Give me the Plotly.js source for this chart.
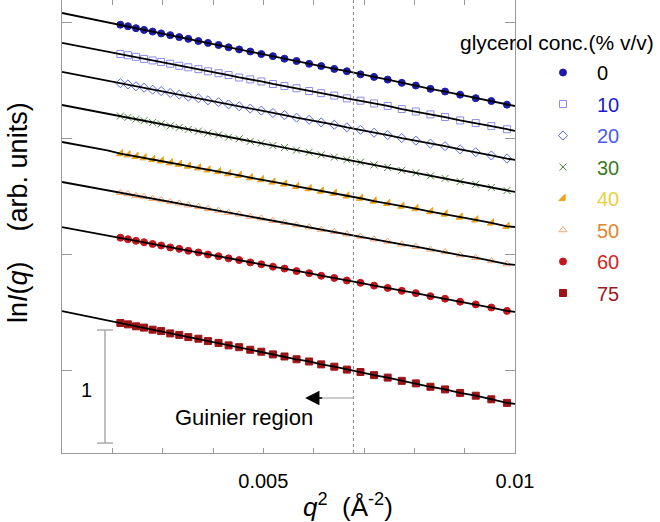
<!DOCTYPE html>
<html>
<head>
<meta charset="utf-8">
<script src="https://cdn.plot.ly/plotly-3.0.1.min.js"></script>
<style>html,body{margin:0;padding:0;background:#fff;}#chart{width:660px;height:522px;}</style>
</head>
<body>
<div id="chart"></div>
<script>
// q^2 positions of the measured points (Å^-2)
const q2 = [0.00216, 0.00231, 0.00247, 0.00263, 0.00280, 0.00297, 0.00315, 0.00333, 0.00351, 0.00371,
            0.00390, 0.00411, 0.00431, 0.00452, 0.00474, 0.00496, 0.00519, 0.00542, 0.00566, 0.00591,
            0.00615, 0.00641, 0.00666, 0.00693, 0.00720, 0.00747, 0.00775, 0.00803, 0.00832, 0.00861,
            0.00891, 0.00922, 0.00953, 0.00984];
// q^2 positions of the extra fit-curve points outside the marker range
const fitLeftQ2 = [0.0010, 0.0013, 0.0016, 0.0019];
const fitRightQ2 = [0.0100];

const conc = ['0', '10', '20', '30', '40', '50', '60', '75'];

// ln I(q) (arb. units, vertically offset) for each glycerol concentration
const lnI_0  = [2.985, 2.972, 2.955, 2.940, 2.926, 2.910, 2.895, 2.878, 2.863, 2.844, 2.828, 2.810, 2.790, 2.772, 2.754, 2.732, 2.714, 2.692, 2.672, 2.648, 2.628, 2.604, 2.584, 2.557, 2.535, 2.512, 2.484, 2.461, 2.432, 2.409, 2.382, 2.352, 2.327, 2.296];
const lnI_10 = [2.733, 2.722, 2.708, 2.690, 2.677, 2.664, 2.649, 2.631, 2.618, 2.602, 2.583, 2.567, 2.551, 2.530, 2.514, 2.496, 2.474, 2.456, 2.437, 2.413, 2.395, 2.374, 2.350, 2.330, 2.306, 2.285, 2.258, 2.237, 2.212, 2.189, 2.160, 2.137, 2.111, 2.084];
const lnI_20 = [2.481, 2.470, 2.454, 2.442, 2.425, 2.413, 2.396, 2.383, 2.365, 2.351, 2.333, 2.317, 2.298, 2.282, 2.262, 2.245, 2.224, 2.206, 2.184, 2.165, 2.143, 2.123, 2.100, 2.079, 2.054, 2.034, 2.008, 1.986, 1.960, 1.938, 1.910, 1.886, 1.858, 1.831];
const lnI_30 = [2.197, 2.186, 2.170, 2.158, 2.142, 2.130, 2.113, 2.100, 2.083, 2.068, 2.050, 2.035, 2.016, 2.001, 1.980, 1.964, 1.943, 1.926, 1.904, 1.885, 1.863, 1.843, 1.821, 1.800, 1.776, 1.755, 1.730, 1.708, 1.682, 1.660, 1.633, 1.609, 1.582, 1.556];
const lnI_40 = [1.874, 1.864, 1.850, 1.838, 1.823, 1.811, 1.795, 1.782, 1.766, 1.751, 1.734, 1.719, 1.701, 1.686, 1.666, 1.650, 1.629, 1.612, 1.591, 1.572, 1.551, 1.532, 1.509, 1.489, 1.465, 1.445, 1.421, 1.400, 1.374, 1.353, 1.326, 1.303, 1.276, 1.247];
const lnI_50 = [1.536, 1.526, 1.511, 1.501, 1.485, 1.474, 1.457, 1.445, 1.429, 1.415, 1.398, 1.383, 1.365, 1.351, 1.331, 1.316, 1.295, 1.279, 1.258, 1.240, 1.219, 1.200, 1.179, 1.159, 1.136, 1.116, 1.092, 1.072, 1.047, 1.026, 0.999, 0.977, 0.949, 0.922];
const lnI_60 = [1.149, 1.136, 1.122, 1.110, 1.095, 1.082, 1.065, 1.053, 1.036, 1.022, 1.004, 0.989, 0.971, 0.956, 0.936, 0.920, 0.899, 0.883, 0.861, 0.843, 0.821, 0.802, 0.780, 0.760, 0.736, 0.716, 0.691, 0.671, 0.645, 0.623, 0.597, 0.574, 0.547, 0.518];
const lnI_75 = [0.414, 0.402, 0.385, 0.374, 0.356, 0.344, 0.324, 0.311, 0.292, 0.278, 0.258, 0.242, 0.221, 0.205, 0.183, 0.166, 0.143, 0.125, 0.101, 0.082, 0.057, 0.037, 0.012, -0.009, -0.036, -0.057, -0.085, -0.107, -0.136, -0.159, -0.189, -0.213, -0.244, -0.275];

// fit curve ends (left extension and right end)
const fitLeft_0  = [3.086, 3.059, 3.033, 3.006];  const fitRight_0  = [2.284];
const fitLeft_10 = [2.828, 2.803, 2.777, 2.752];  const fitRight_10 = [2.069];
const fitLeft_20 = [2.578, 2.553, 2.527, 2.502];  const fitRight_20 = [1.819];
const fitLeft_30 = [2.293, 2.268, 2.243, 2.218];  const fitRight_30 = [1.543];
const fitLeft_40 = [1.974, 1.950, 1.925, 1.901];  const fitRight_40 = [1.241];
const fitLeft_50 = [1.629, 1.605, 1.581, 1.558];  const fitRight_50 = [0.914];
const fitLeft_60 = [1.241, 1.217, 1.192, 1.168];  const fitRight_60 = [0.509];
const fitLeft_75 = [0.517, 0.490, 0.464, 0.437];  const fitRight_75 = [-0.284];

const xTickVals = [0.001, 0.002, 0.003, 0.004, 0.005, 0.006, 0.007, 0.008, 0.009, 0.010];
const xTickText = ['', '', '', '', '0.005', '', '', '', '', '0.01'];

const guinierLimit = 0.00679;

const seriesY = [lnI_0, lnI_10, lnI_20, lnI_30, lnI_40, lnI_50, lnI_60, lnI_75];
const fitLeft = [fitLeft_0, fitLeft_10, fitLeft_20, fitLeft_30, fitLeft_40, fitLeft_50, fitLeft_60, fitLeft_75];
const fitRight = [fitRight_0, fitRight_10, fitRight_20, fitRight_30, fitRight_40, fitRight_50, fitRight_60, fitRight_75];

const symbols = ['circle', 'square-open', 'diamond-open', 'x-thin-open', 'triangle-se', 'triangle-up-open', 'circle', 'square'];
const markerColors = ['#1c1ca6', '#8c8cec', '#5a6af0', '#4f8a3a', '#eca21a', '#f2a672', '#c4161c', '#9c1416'];
const labelColors = ['#000000', '#1a1ad0', '#4a5af2', '#3c7a20', '#ecd040', '#e4842e', '#d42424', '#9c1a1a'];

const FONT = 'Liberation Sans, Arial, Helvetica, sans-serif';

const traces = [];
for (let i = 0; i < conc.length; i++) {
  traces.push({
    x: q2, y: seriesY[i], type: 'scatter', mode: 'markers',
    name: '<span style="color:' + labelColors[i] + '">' + conc[i] + '</span>',
    legendgroup: 'g' + i,
    marker: {symbol: symbols[i], size: 7, color: markerColors[i],
             line: {color: markerColors[i], width: 1}},
    showlegend: true, hoverinfo: 'skip'
  });
}
for (let i = 0; i < conc.length; i++) {
  traces.push({
    x: fitLeftQ2.concat(q2, fitRightQ2),
    y: fitLeft[i].concat(seriesY[i], fitRight[i]),
    type: 'scatter', mode: 'lines',
    line: {color: '#000000', width: 1.8},
    showlegend: false, hoverinfo: 'skip'
  });
}

const layout = {
  width: 660, height: 522,
  margin: {l: 62, r: 145, t: 0, b: 69},
  paper_bgcolor: '#ffffff', plot_bgcolor: '#ffffff',
  font: {family: FONT, size: 20, color: '#000'},
  showlegend: true,
  legend: {x: 1.0309, y: 0.883, xanchor: 'left', yanchor: 'top', itemwidth: 58,
           font: {family: FONT, size: 20}, bgcolor: 'rgba(0,0,0,0)', tracegroupgap: 2.5},
  xaxis: {
    range: [0.001, 0.010], tickmode: 'array', tickvals: xTickVals, ticktext: xTickText,
    ticks: 'inside', ticklen: 5, tickcolor: '#999', tickwidth: 1,
    showline: true, linecolor: '#999', linewidth: 1, mirror: 'ticks',
    showgrid: false, zeroline: false, ticklabelstandoff: 10,
    tickfont: {family: FONT, size: 20, color: '#000'}
  },
  yaxis: {
    range: [-0.707, 3.198], dtick: 1, tick0: 0,
    ticks: 'inside', ticklen: 10, tickcolor: '#999', tickwidth: 1,
    showline: true, linecolor: '#999', linewidth: 1, mirror: 'ticks',
    showgrid: false, zeroline: false, showticklabels: false
  },
  shapes: [
    {type: 'line', xref: 'x', yref: 'paper', x0: guinierLimit, x1: guinierLimit, y0: 0, y1: 1,
     line: {color: '#888', width: 1, dash: 'dot'}},
    {type: 'line', xref: 'x', yref: 'y', x0: 0.00600, x1: 0.00680, y0: -0.233, y1: -0.233,
     line: {color: '#999', width: 1}},
    {type: 'line', xref: 'x', yref: 'y', x0: 0.001854, x1: 0.001854, y0: -0.621, y1: 0.353,
     line: {color: '#aaa', width: 1.5}},
    {type: 'line', xref: 'x', yref: 'y', x0: 0.001695, x1: 0.002013, y0: 0.353, y1: 0.353,
     line: {color: '#aaa', width: 1.5}},
    {type: 'line', xref: 'x', yref: 'y', x0: 0.001695, x1: 0.002013, y0: -0.621, y1: -0.621,
     line: {color: '#aaa', width: 1.5}}
  ],
  annotations: [
    {x: 0.00583, y: -0.233, xref: 'x', yref: 'y', ax: 0.00620, ay: -0.233, axref: 'x', ayref: 'y',
     text: '', showarrow: true, arrowhead: 2, arrowsize: 2.2, arrowwidth: 1.3, arrowcolor: '#000'},
    {x: 0.004616, y: -0.397, xref: 'x', yref: 'y', text: 'Guinier region', showarrow: false,
     font: {family: FONT, size: 22, color: '#000'}, xanchor: 'center', yanchor: 'middle'},
    {x: 0.001477, y: -0.164, xref: 'x', yref: 'y', text: '1', showarrow: false,
     font: {family: FONT, size: 20, color: '#000'}, xanchor: 'center', yanchor: 'middle'},
    {x: -0.097, y: 0.530, xref: 'paper', yref: 'paper', textangle: -90,
     text: 'ln<i>I</i>(<i>q</i>)\u00a0\u00a0\u00a0\u00a0(arb. units)', showarrow: false,
     font: {family: FONT, size: 27, color: '#000'}, xanchor: 'center', yanchor: 'middle'},
    {x: 0.631, y: -0.115, xref: 'paper', yref: 'paper',
     text: '<i>q</i><sup>2</sup>\u00a0\u00a0(Å<sup>-2</sup>)', showarrow: false,
     font: {family: FONT, size: 26, color: '#000'}, xanchor: 'center', yanchor: 'middle'},
    {x: 0.874, y: 0.907, xref: 'paper', yref: 'paper', text: 'glycerol conc.(% v/v)', showarrow: false,
     font: {family: FONT, size: 21, color: '#000'}, xanchor: 'left', yanchor: 'middle'}
  ]
};

Plotly.newPlot('chart', traces, layout, {displayModeBar: false, staticPlot: true});
</script>
</body>
</html>
